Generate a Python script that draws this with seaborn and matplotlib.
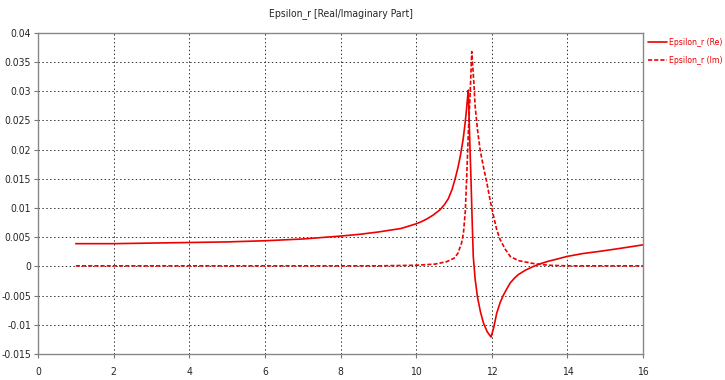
import numpy as np
import pandas as pd
import matplotlib
matplotlib.use("Agg")
import matplotlib.pyplot as plt
import seaborn as sns

# Real part
re_x = [1, 2, 3, 4, 5, 6, 7, 8, 8.5, 9, 9.3, 9.6, 9.8, 10.0, 10.15, 10.3, 10.45,
        10.63, 10.75, 10.85, 10.95, 11.03, 11.1, 11.17, 11.24, 11.29, 11.33, 11.36,
        11.38, 11.41, 11.45, 11.48, 11.51, 11.56, 11.62, 11.7, 11.78, 11.88, 11.98,
        12.05, 12.13, 12.22, 12.3, 12.4, 12.49, 12.6, 12.7, 12.9, 13.1, 13.3, 13.5,
        13.75, 13.98, 14.4, 14.87, 15.4, 16]
re_y = [0.0039, 0.0039, 0.0040, 0.0041, 0.0042, 0.0044, 0.0047, 0.0052, 0.0055,
        0.0059, 0.0062, 0.0065, 0.0069, 0.0073, 0.0077, 0.0082, 0.0088,
        0.0097, 0.0106, 0.0116, 0.0132, 0.0150, 0.0168, 0.0190, 0.0217, 0.0243,
        0.0268, 0.0290, 0.0302, 0.0230, 0.0148, 0.0080, 0.0017, -0.0022, -0.0052,
        -0.0078, -0.0097, -0.0112, -0.0121, -0.0105, -0.0080, -0.0062, -0.0050,
        -0.0038, -0.0028, -0.0020, -0.0014, -0.0006, 0.0000, 0.0005, 0.0009,
        0.0013, 0.0017, 0.0022, 0.0026, 0.0031, 0.0037]

# Imaginary part
im_x = [1, 3, 5, 7, 9, 10, 10.5, 10.8, 11.0, 11.1, 11.2, 11.25, 11.3, 11.34,
        11.38, 11.43, 11.47, 11.52, 11.56, 11.62, 11.69, 11.78, 11.87, 11.96,
        12.05, 12.13, 12.22, 12.35, 12.49, 12.7, 13.1, 13.5, 14, 15, 16]
im_y = [0.0001, 0.0001, 0.0001, 0.0001, 0.0001, 0.0002, 0.0004, 0.0008, 0.0014,
        0.0022, 0.0040, 0.0057, 0.0095, 0.0160, 0.0230, 0.0300, 0.0368, 0.0320,
        0.0274, 0.0235, 0.0200, 0.0170, 0.0143, 0.0112, 0.0085, 0.0063, 0.0046,
        0.0030, 0.0017, 0.0010, 0.0005, 0.0002, 0.0001, 0.0001, 0.0001]

re_label = "Epsilon_r (Re)"
im_label = "Epsilon_r (Im)"

df = pd.concat([
    pd.DataFrame({"x": re_x, "y": re_y, "part": re_label}),
    pd.DataFrame({"x": im_x, "y": im_y, "part": im_label}),
])

sns.set_style("white")
plt.rcParams["font.family"] = ["DejaVu Sans"]
plt.rcParams["font.stretch"] = "condensed"

fig = plt.figure(figsize=(7.25, 3.8), dpi=100)
ax = fig.add_axes([0.0524, 0.0684, 0.8346, 0.845])

sns.lineplot(data=df, x="x", y="y", hue="part", style="part",
             palette={re_label: "#ee0000", im_label: "#ee0000"},
             dashes={re_label: "", im_label: (2.5, 1.2)},
             linewidth=1.2, ax=ax, sort=False)

ax.set_xlim(0, 16)
ax.set_ylim(-0.015, 0.04)
ax.set_xticks(np.arange(0, 17, 2))
ax.set_yticks(np.arange(-0.015, 0.0401, 0.005))
ax.set_yticklabels(["-0.015", "-0.01", "-0.005", "0", "0.005", "0.01", "0.015",
                    "0.02", "0.025", "0.03", "0.035", "0.04"])
ax.grid(True, color="#333333", linestyle=(0, (1.5, 2.5)), linewidth=0.7)
ax.tick_params(axis="both", labelsize=7.5, length=3, direction="out",
               color="#777777", bottom=True, left=True)
ax.tick_params(axis="y", pad=2)
ax.tick_params(axis="x", pad=6)
for s in ax.spines.values():
    s.set_color("#888888")
    s.set_linewidth(1.0)
ax.set_xlabel("")
ax.set_ylabel("")
ax.set_title("Epsilon_r [Real/Imaginary Part]", fontsize=7.5, pad=12)

leg = ax.legend(loc="upper left", bbox_to_anchor=(1.0, 1.0), frameon=False,
                fontsize=6.2, handlelength=2.2, handletextpad=0.25,
                labelspacing=1.0, borderaxespad=0.2, borderpad=0.4)
for t in leg.get_texts():
    t.set_color("#ee0000")

fig.savefig("out.png", dpi=100)
